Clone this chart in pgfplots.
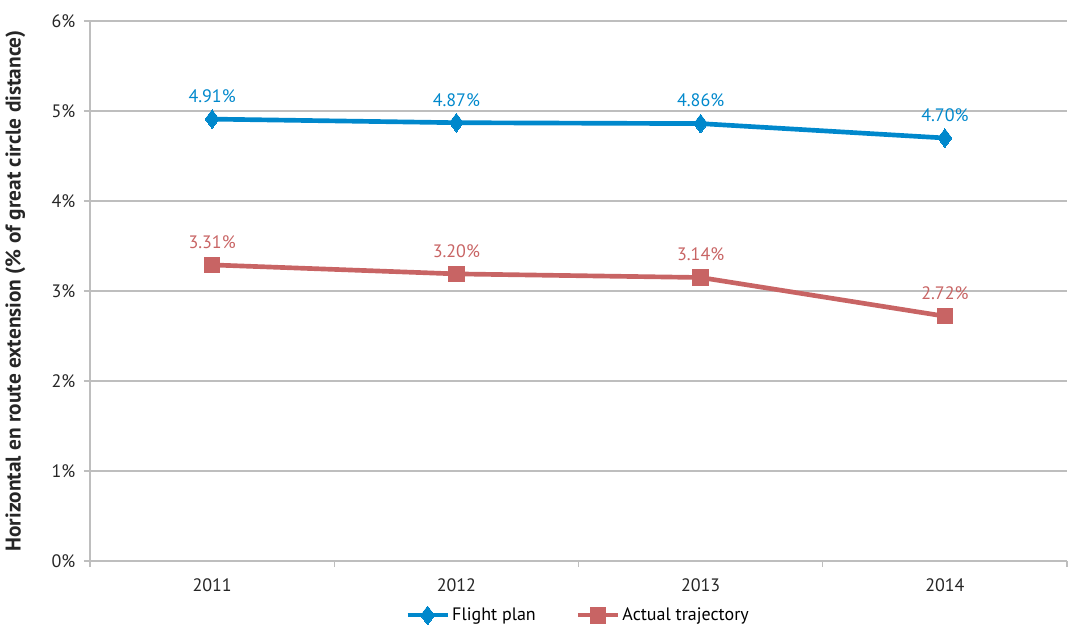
\documentclass[border=0pt]{standalone}
\usepackage{pgfplots}
\pgfplotsset{compat=1.18}
\usepackage{fontspec}
\setmainfont{PT Sans}
\usetikzlibrary{calc}
\definecolor{fpblue}{RGB}{0,136,204}
\definecolor{atred}{RGB}{200,100,100}
\definecolor{gridgray}{RGB}{190,190,190}
\begin{document}
\begin{tikzpicture}[x=0.75pt,y=0.75pt]
\begin{axis}[
  scale only axis,
  width=732.75pt, height=405pt,
  xmin=0, xmax=4, ymin=0, ymax=6,
  xtick={0.5,1.5,2.5,3.5},
  xticklabels={2011,2012,2013,2014},
  minor xtick={0,1,2,3,4},
  ytick={0,1,2,3,4,5,6},
  yticklabel={\pgfmathprintnumber{\tick}\%},
  /pgf/number format/assume math mode=true,
  ymajorgrids, grid style={gridgray, line width=0.8pt},
  axis x line*=bottom, axis y line*=left,
  axis line style={gridgray, line width=0.8pt},
  x axis line style={-}, y axis line style={-},
  major x tick style={draw=none},
  minor x tick style={gridgray, line width=0.8pt},
  y tick style={gridgray, line width=0.8pt},
  tick align=outside, major tick length=4.5pt, minor tick length=4.5pt,
  ticklabel style={font=\fontsize{13.5}{15}\selectfont, text=black!85},
  xticklabel style={yshift=-5pt},
  yticklabel style={xshift=-3pt},
  ylabel={\textbf{Horizontal en route extension (\% of great circle distance)}},
  ylabel style={font=\fontsize{16}{18}\selectfont, text=black!85, at={(axis description cs:0,0.5)}, anchor=south, yshift=45pt},
  legend style={at={(0.5,0)}, anchor=north, yshift=-31pt, draw=none,
    legend columns=2, font=\fontsize{13.5}{15}\selectfont,
    /tikz/every even column/.append style={column sep=28pt}},
  legend image code/.code={
    \draw[#1, line width=3pt, mark repeat=2, mark phase=2] plot coordinates {(0pt,0pt) (15pt,0pt) (30pt,0pt)};},
  nodes near coords,
  point meta=explicit symbolic,
  every node near coord/.append style={font=\fontsize{13.5}{15}\selectfont, yshift=9pt},
  clip=false,
]
\addplot[fpblue, line width=3.5pt, mark=diamond*, mark size=7pt,
  mark options={line width=0pt}, nodes near coords style={text=fpblue}]
  coordinates {(0.5,4.91)[4.91\%] (1.5,4.87)[4.87\%] (2.5,4.86)[4.86\%] (3.5,4.70)[4.70\%]};
\addlegendentry{Flight plan}
\addplot[atred, line width=3.5pt, mark=square*, mark size=5.8pt,
  mark options={line width=0pt}, nodes near coords style={text=atred}]
  coordinates {(0.5,3.29)[3.31\%] (1.5,3.19)[3.20\%] (2.5,3.15)[3.14\%] (3.5,2.72)[2.72\%]};
\addlegendentry{Actual trajectory}
\coordinate (O) at (rel axis cs:0,0);
\end{axis}
\path ($(O)+(-90,-65)$) rectangle ++(1071,626);
\end{tikzpicture}
\end{document}
